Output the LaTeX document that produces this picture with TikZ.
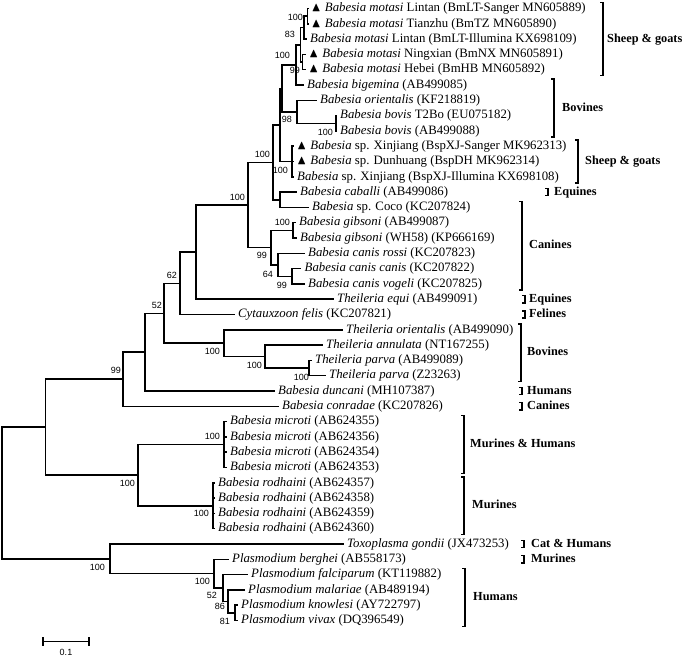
\documentclass[tikz,border=0pt]{standalone}
\usepackage{amssymb}
\usepackage{fontspec}
\setmainfont{Liberation Serif}
\newfontfamily\bootfont{Liberation Sans}
\newcommand{\mtri}{$\blacktriangle$\hspace{4pt}}
\tikzset{
  branch/.style={
    line width=1.5pt
  },
  taxon/.style={
    anchor=west,
    inner xsep=3.5pt,
    inner ysep=0pt,
    text height=9.2pt,
    text depth=2.8pt,
    font=\fontsize{12.8}{15}\selectfont
  },
  boot/.style={
    anchor=east,
    inner sep=0pt,
    font=\bootfont\fontsize{9}{10}\selectfont
  },
  host/.style={
    anchor=west,
    inner sep=0pt,
    text height=9pt,
    text depth=2.8pt,
    font=\bfseries\fontsize{12.3}{14}\selectfont
  },
  bracket/.style={
    line width=1.5pt
  }
}

\begin{document}
\begin{tikzpicture}[x=1pt,y=-1pt]
\fill[white] (0,-2.5) rectangle (685,654.5);
\useasboundingbox (0,-2.5) rectangle (685,654.5);
% inner nodes
\coordinate (root) at (2,490.5);
\coordinate (A) at (45.7,424.7);
\coordinate (B) at (123,376.7);
\coordinate (C) at (145,349.6);
\coordinate (D) at (164,310.75);
\coordinate (E) at (180,280.8);
\coordinate (F) at (196,249.6);
\coordinate (G) at (248,202.45);
\coordinate (H) at (273,159.8);
\coordinate (I) at (280,122.4);
\coordinate (n6) at (282,85.85);
\coordinate (n5) at (296,62.4);
\coordinate (n3) at (300.5,42.3);
\coordinate (n2) at (304,25.1);
\coordinate (n1) at (307.5,13.65);
\coordinate (n4) at (302.5,59.55);
\coordinate (O) at (297,109.3);
\coordinate (Bv) at (336,120.75);
\coordinate (X) at (292,159);
\coordinate (J) at (280,197.25);
\coordinate (K) at (271,245.1);
\coordinate (Gi) at (293,227.85);
\coordinate (Ca) at (278,262.3);
\coordinate (Ca2) at (292,273.75);
\coordinate (T1) at (224,340.7);
\coordinate (T2) at (265,354.1);
\coordinate (T3) at (309,365.55);
\coordinate (M) at (138,472.65);
\coordinate (Mi) at (224,442.05);
\coordinate (Ro) at (213,503.25);
\coordinate (P) at (110,556.3);
\coordinate (Pl) at (214,571.15);
\coordinate (Pl2) at (223,585.5);
\coordinate (Pl3) at (228,598.9);
\coordinate (Pl4) at (235,610.35);
% taxa
\node[taxon] (mLTs) at (308,6.0) {\mtri\textit{Babesia motasi} Lintan (BmLT-Sanger MN605889)};
\node[taxon] (mTZ) at (308,21.3) {\mtri\textit{Babesia motasi} Tianzhu (BmTZ MN605890)};
\node[taxon] (mLTi) at (306.5,36.6) {\textit{Babesia motasi} Lintan (BmLT-Illumina KX698109)};
\node[taxon] (mNX) at (305.5,51.9) {\mtri\textit{Babesia motasi} Ningxian (BmNX MN605891)};
\node[taxon] (mHB) at (305.5,67.2) {\mtri\textit{Babesia motasi} Hebei (BmHB MN605892)};
\node[taxon] (bbig) at (303.5,82.5) {\textit{Babesia bigemina} (AB499085)};
\node[taxon] (bori) at (316.5,97.8) {\textit{Babesia orientalis} (KF218819)};
\node[taxon] (bbovT) at (336.5,113.1) {\textit{Babesia bovis} T2Bo (EU075182)};
\node[taxon] (bbov) at (336.5,128.4) {\textit{Babesia bovis} (AB499088)};
\node[taxon] (sXJs) at (293.5,143.7) {\mtri\textit{Babesia} sp. Xinjiang (BspXJ-Sanger MK962313)};
\node[taxon] (sDH) at (293.5,159.0) {\mtri\textit{Babesia} sp. Dunhuang (BspDH MK962314)};
\node[taxon] (sXJi) at (293.5,174.3) {\textit{Babesia} sp. Xinjiang (BspXJ-Illumina KX698108)};
\node[taxon] (bcab) at (296.5,189.6) {\textit{Babesia caballi} (AB499086)};
\node[taxon] (bcoco) at (308.5,204.9) {\textit{Babesia} sp. Coco (KC207824)};
\node[taxon] (bgib) at (295.5,220.2) {\textit{Babesia gibsoni} (AB499087)};
\node[taxon] (bgibW) at (296.5,235.5) {\textit{Babesia gibsoni} (WH58) (KP666169)};
\node[taxon] (bcr) at (304.5,250.8) {\textit{Babesia canis rossi} (KC207823)};
\node[taxon] (bcc) at (301,266.1) {\textit{Babesia canis canis} (KC207822)};
\node[taxon] (bcv) at (304.5,281.4) {\textit{Babesia canis vogeli} (KC207825)};
\node[taxon] (tequ) at (333.5,296.7) {\textit{Theileria equi} (AB499091)};
\node[taxon] (cfel) at (234.5,312.0) {\textit{Cytauxzoon felis} (KC207821)};
\node[taxon] (tori) at (342.5,327.3) {\textit{Theileria orientalis} (AB499090)};
\node[taxon] (tann) at (322.5,342.6) {\textit{Theileria annulata} (NT167255)};
\node[taxon] (tpar) at (311.5,357.9) {\textit{Theileria parva} (AB499089)};
\node[taxon] (tparZ) at (325.5,373.2) {\textit{Theileria parva} (Z23263)};
\node[taxon] (bdun) at (274.5,388.5) {\textit{Babesia duncani} (MH107387)};
\node[taxon] (bcon) at (278.5,403.8) {\textit{Babesia conradae} (KC207826)};
\node[taxon] (bmic1) at (226.5,419.1) {\textit{Babesia microti} (AB624355)};
\node[taxon] (bmic2) at (226.5,434.4) {\textit{Babesia microti} (AB624356)};
\node[taxon] (bmic3) at (226.5,449.7) {\textit{Babesia microti} (AB624354)};
\node[taxon] (bmic4) at (226.5,465.0) {\textit{Babesia microti} (AB624353)};
\node[taxon] (brod1) at (214.5,480.3) {\textit{Babesia rodhaini} (AB624357)};
\node[taxon] (brod2) at (214.5,495.6) {\textit{Babesia rodhaini} (AB624358)};
\node[taxon] (brod3) at (214.5,510.9) {\textit{Babesia rodhaini} (AB624359)};
\node[taxon] (brod4) at (214.5,526.2) {\textit{Babesia rodhaini} (AB624360)};
\node[taxon] (tgon) at (343.5,541.5) {\textit{Toxoplasma gondii} (JX473253)};
\node[taxon] (pber) at (228.5,556.8) {\textit{Plasmodium berghei} (AB558173)};
\node[taxon] (pfal) at (247.5,572.1) {\textit{Plasmodium falciparum} (KT119882)};
\node[taxon] (pmal) at (244.5,587.4) {\textit{Plasmodium malariae} (AB489194)};
\node[taxon] (pkno) at (237.5,602.7) {\textit{Plasmodium knowlesi} (AY722797)};
\node[taxon] (pviv) at (237.5,618.0) {\textit{Plasmodium vivax} (DQ396549)};
% branches
\draw[branch] (root) |- (A);
\draw[branch] (root) |- (P);
\draw[branch] (A) |- (B);
\draw[branch] (A) |- (M);
\draw[branch] (B) |- (C);
\draw[branch] (B) |- (bcon.west);
\draw[branch] (C) |- (D);
\draw[branch] (C) |- (bdun.west);
\draw[branch] (D) |- (E);
\draw[branch] (D) |- (T1);
\draw[branch] (E) |- (F);
\draw[branch] (E) |- (cfel.west);
\draw[branch] (F) |- (G);
\draw[branch] (F) |- (tequ.west);
\draw[branch] (G) |- (H);
\draw[branch] (G) |- (K);
\draw[branch] (H) |- (I);
\draw[branch] (H) |- (J);
\draw[branch] (I) |- (n6);
\draw[branch] (I) |- (X);
\draw[branch] (n6) |- (n5);
\draw[branch] (n6) |- (O);
\draw[branch] (n5) |- (n3);
\draw[branch] (n5) |- (bbig.west);
\draw[branch] (n3) |- (n2);
\draw[branch] (n3) |- (n4);
\draw[branch] (n2) |- (n1);
\draw[branch] (n2) |- (mLTi.west);
\draw[branch] (n1) |- (mLTs.west);
\draw[branch] (n1) |- (mTZ.west);
\draw[branch] (n4) |- (mNX.west);
\draw[branch] (n4) |- (mHB.west);
\draw[branch] (O) |- (bori.west);
\draw[branch] (O) |- (Bv);
\draw[branch] (Bv) |- (bbovT.west);
\draw[branch] (Bv) |- (bbov.west);
\draw[branch] (X) |- (sXJs.west);
\draw[branch] (X) |- (sDH.west);
\draw[branch] (X) |- (sXJi.west);
\draw[branch] (J) |- (bcab.west);
\draw[branch] (J) |- (bcoco.west);
\draw[branch] (K) |- (Gi);
\draw[branch] (K) |- (Ca);
\draw[branch] (Gi) |- (bgib.west);
\draw[branch] (Gi) |- (bgibW.west);
\draw[branch] (Ca) |- (bcr.west);
\draw[branch] (Ca) |- (Ca2);
\draw[branch] (Ca2) |- (bcc.west);
\draw[branch] (Ca2) |- (bcv.west);
\draw[branch] (T1) |- (tori.west);
\draw[branch] (T1) |- (T2);
\draw[branch] (T2) |- (tann.west);
\draw[branch] (T2) |- (T3);
\draw[branch] (T3) |- (tpar.west);
\draw[branch] (T3) |- (tparZ.west);
\draw[branch] (M) |- (Mi);
\draw[branch] (M) |- (Ro);
\draw[branch] (Mi) |- (bmic1.west);
\draw[branch] (Mi) |- (bmic2.west);
\draw[branch] (Mi) |- (bmic3.west);
\draw[branch] (Mi) |- (bmic4.west);
\draw[branch] (Ro) |- (brod1.west);
\draw[branch] (Ro) |- (brod2.west);
\draw[branch] (Ro) |- (brod3.west);
\draw[branch] (Ro) |- (brod4.west);
\draw[branch] (P) |- (tgon.west);
\draw[branch] (P) |- (Pl);
\draw[branch] (Pl) |- (pber.west);
\draw[branch] (Pl) |- (Pl2);
\draw[branch] (Pl2) |- (pfal.west);
\draw[branch] (Pl2) |- (Pl3);
\draw[branch] (Pl3) |- (pmal.west);
\draw[branch] (Pl3) |- (Pl4);
\draw[branch] (Pl4) |- (pkno.west);
\draw[branch] (Pl4) |- (pviv.west);
% bootstrap values
\node[boot] (bs1) at (303,15) {100};
\node[boot] (bs2) at (295,32) {83};
\node[boot] (bs3) at (300,68) {99};
\node[boot] (bs4) at (290,53) {100};
\node[boot] (bs5) at (292,117) {98};
\node[boot] (bs6) at (333,130) {100};
\node[boot] (bs7) at (288,168) {100};
\node[boot] (bs8) at (270,152) {100};
\node[boot] (bs9) at (245,195) {100};
\node[boot] (bs10) at (290,220) {100};
\node[boot] (bs11) at (267,253) {99};
\node[boot] (bs12) at (273,272) {64};
\node[boot] (bs13) at (287,283) {99};
\node[boot] (bs14) at (177,273) {62};
\node[boot] (bs15) at (162,303) {52};
\node[boot] (bs16) at (220,349) {100};
\node[boot] (bs17) at (262,363) {100};
\node[boot] (bs18) at (309,375) {100};
\node[boot] (bs19) at (121,368) {99};
\node[boot] (bs20) at (135,481) {100};
\node[boot] (bs21) at (220,434) {100};
\node[boot] (bs22) at (209,511) {100};
\node[boot] (bs23) at (105,565) {100};
\node[boot] (bs24) at (210,579) {100};
\node[boot] (bs25) at (217,593) {52};
\node[boot] (bs26) at (225,604) {86};
\node[boot] (bs27) at (230,619) {81};
% hosts
\draw[bracket] (600,0) -| (603,73.2) -- (600,73.2);
\node[host] (h1) at (607,36.6) {Sheep \& goats};
\draw[bracket] (551,76.5) -| (554,134.4) -- (551,134.4);
\node[host] (h2) at (562,105.5) {Bovines};
\draw[bracket] (575,137.7) -| (578,180.3) -- (575,180.3);
\node[host] (h3) at (585,159) {Sheep \& goats};
\draw[bracket] (545,186) -| (548,193.2) -- (545,193.2);
\node[host] (h4) at (554,189.6) {Equines};
\draw[bracket] (519,198.9) -| (522,287.4) -- (519,287.4);
\node[host] (h5) at (529,243.2) {Canines};
\draw[bracket] (522,293.1) -| (525,300.3) -- (522,300.3);
\node[host] (h6) at (529,296.7) {Equines};
\draw[bracket] (522,308.4) -| (525,315.6) -- (522,315.6);
\node[host] (h7) at (529,312) {Felines};
\draw[bracket] (518,321.3) -| (521,379.2) -- (518,379.2);
\node[host] (h8) at (527,350.3) {Bovines};
\draw[bracket] (519,384.9) -| (522,392.1) -- (519,392.1);
\node[host] (h9) at (527,388.5) {Humans};
\draw[bracket] (519,400.2) -| (522,407.4) -- (519,407.4);
\node[host] (h10) at (527,403.8) {Canines};
\draw[bracket] (461,413.1) -| (464,471) -- (461,471);
\node[host] (h11) at (470,442) {Murines \& Humans};
\draw[bracket] (461,474.3) -| (464,532.2) -- (461,532.2);
\node[host] (h12) at (472,503.2) {Murines};
\draw[bracket] (521,537.9) -| (524,545.1) -- (521,545.1);
\node[host] (h13) at (531,541.5) {Cat \& Humans};
\draw[bracket] (521,553.2) -| (524,560.4) -- (521,560.4);
\node[host] (h14) at (531,556.8) {Murines};
\draw[bracket] (462,566.1) -| (465,624) -- (462,624);
\node[host] (h15) at (473,595) {Humans};
% scale bar
\draw[branch] (43,634.5) -- (43,643.5) (43,639) -- (89,639) (89,634.5) -- (89,643.5);
\node[boot,anchor=center] (scale) at (66,649.5) {0.1};
\end{tikzpicture}
\end{document}
